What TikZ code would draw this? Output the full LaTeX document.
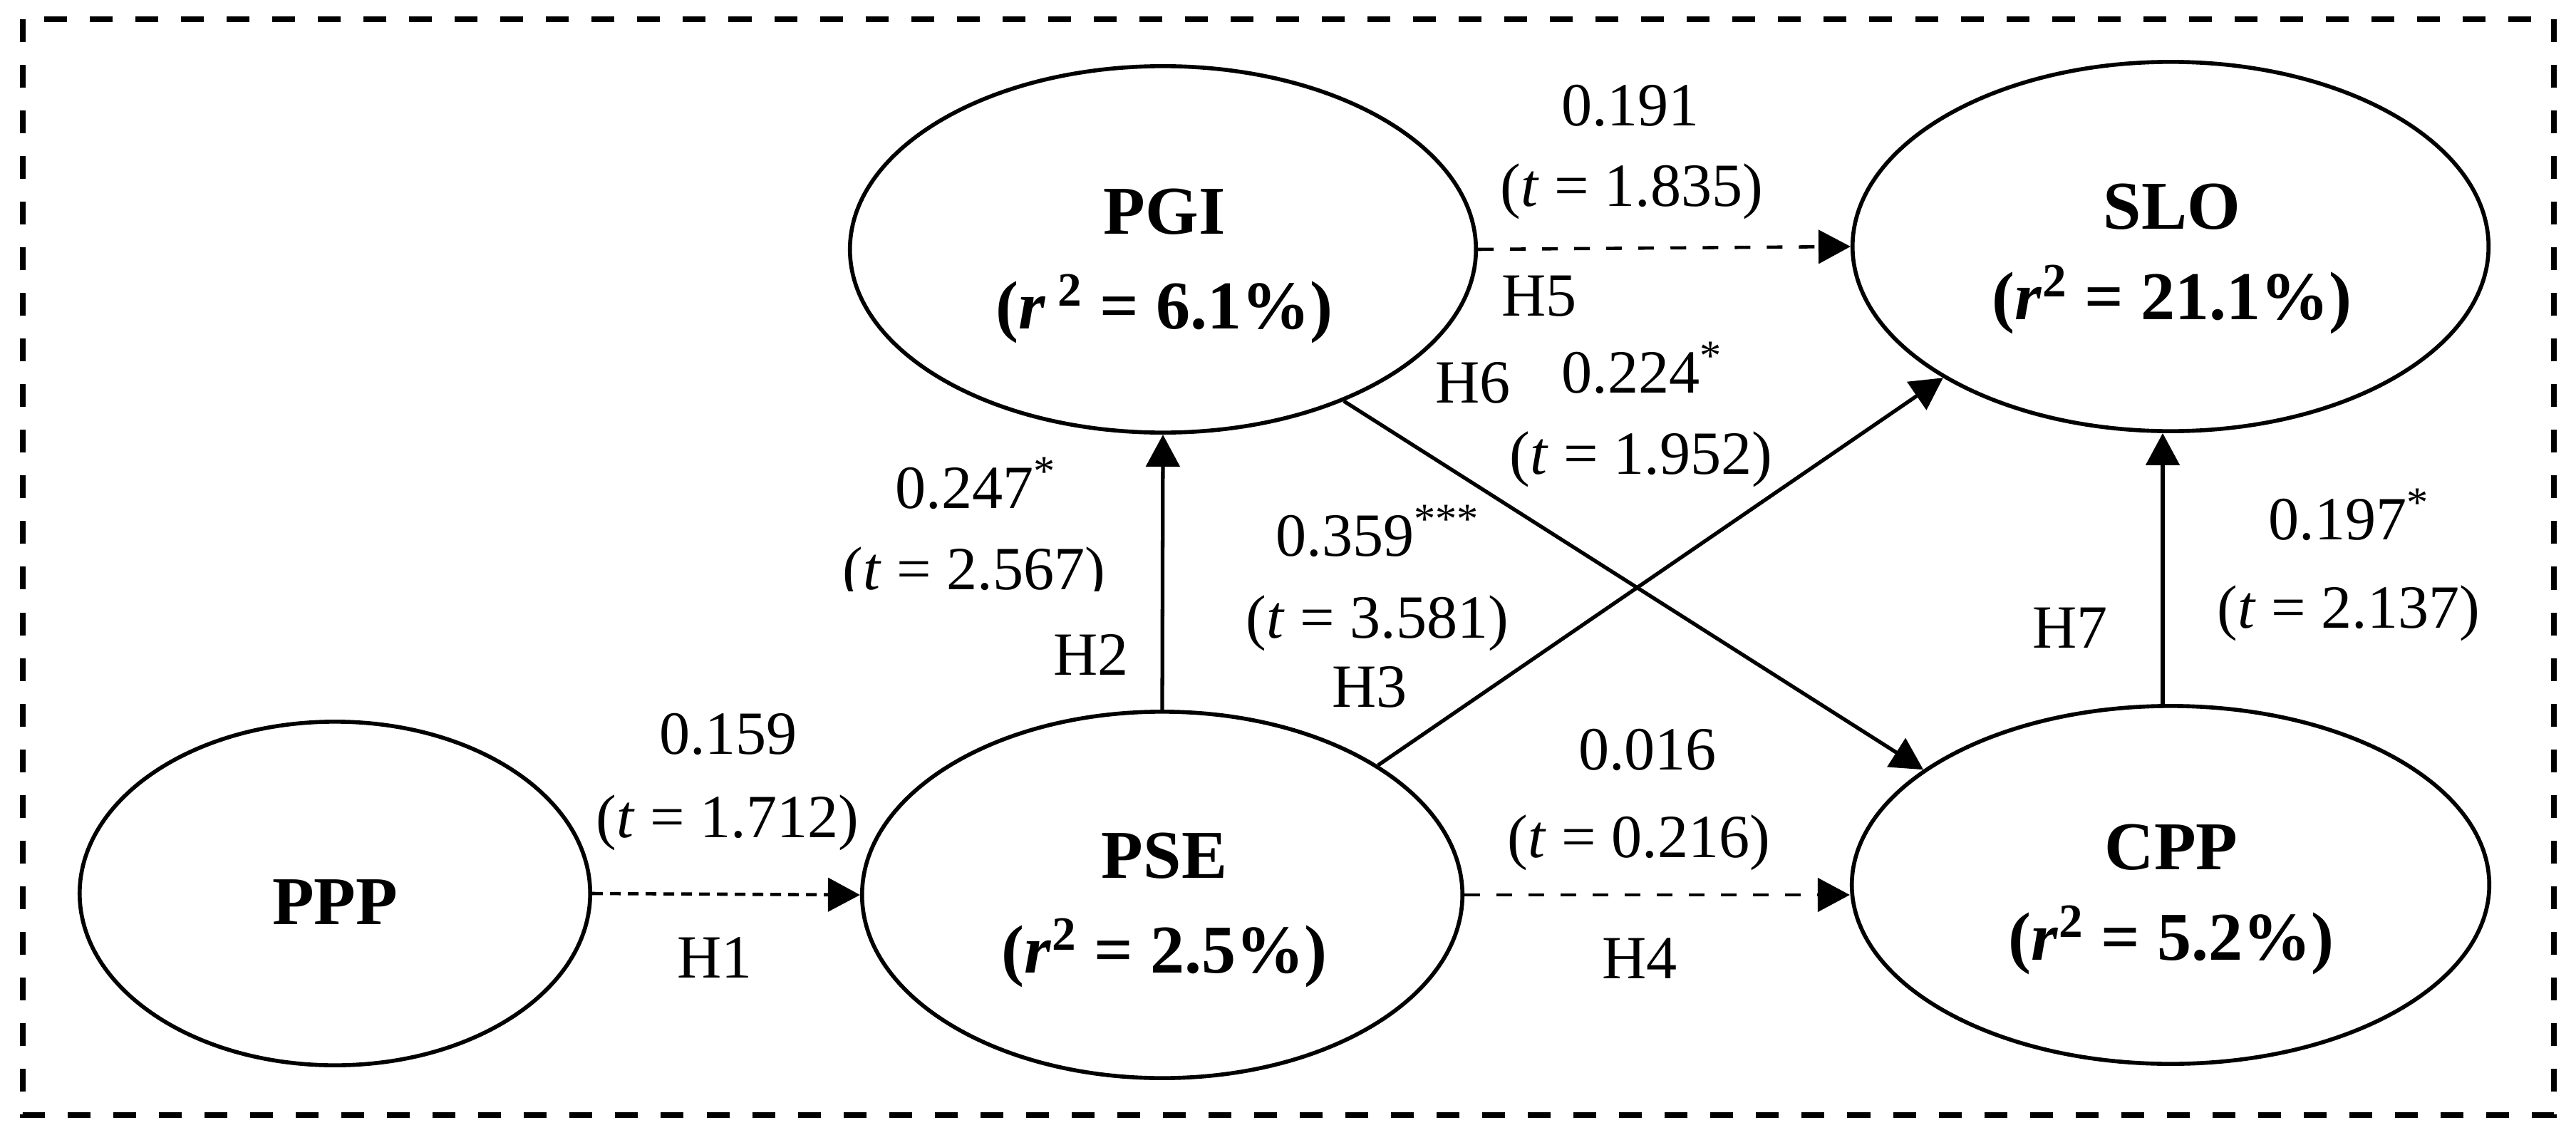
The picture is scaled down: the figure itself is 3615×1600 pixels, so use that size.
\documentclass[tikz,border=0pt]{standalone}
\usepackage{fontspec}
\setmainfont{Liberation Serif}
\usetikzlibrary{arrows.meta,shapes.geometric}
\newcommand\labfont{\fontsize{24.5pt}{28pt}\selectfont}
\newcommand\titfont{\fontsize{27.3pt}{32pt}\selectfont\bfseries}
\tikzset{
  ell/.style={draw, ellipse, line width=1.6pt, inner sep=0pt},
  lab/.style={inner sep=0pt, anchor=base, font=\labfont},
  labw/.style={inner sep=0pt, anchor=base west, font=\labfont},
  tit/.style={inner sep=0pt, anchor=base, font=\titfont},
  arr/.style={-{Triangle[length=0.45cm,width=0.47cm]}, line width=1.5pt},
  dashA/.style={line width=1.3pt, dash pattern=on 0.15cm off 0.10cm},
  dashB/.style={line width=1.3pt, dash pattern=on 0.22cm off 0.23cm},
  border/.style={line width=2.3pt, dash pattern=on 0.32cm off 0.32cm}
}
\begin{document}
\begin{tikzpicture}[x=0.01cm, y=-0.01cm]
\useasboundingbox (0,0) rectangle (3615,1600);
\draw[border] (32,27) rectangle (3584,1565);

% ellipses
\node[ell, minimum width=7.16cm, minimum height=4.82cm] (PPP) at (470,1254) {};
\node[ell, minimum width=8.42cm, minimum height=5.14cm] (PSE) at (1631,1256) {};
\node[ell, minimum width=8.78cm, minimum height=5.14cm] (PGI) at (1632,350) {};
\node[ell, minimum width=8.92cm, minimum height=5.18cm] (SLO) at (3046,346) {};
\node[ell, minimum width=8.94cm, minimum height=5.02cm] (CPP) at (3046,1242) {};

% ellipse texts
\node[tit] (tPPP) at (470,1297) {PPP};
\node[tit] (tPSE) at (1634,1232) {PSE};
\node[tit] (rPSE) at (1634,1365) {(\textit{r}\textsuperscript{2} = 2.5\%)};
\node[tit] (tPGI) at (1634,328) {PGI};
\node[tit] (rPGI) at (1634,461) {(\textit{r}\,\textsuperscript{2} = 6.1\%)};
\node[tit] (tSLO) at (3048,321) {SLO};
\node[tit] (rSLO) at (3048,448) {(\textit{r}\textsuperscript{2} = 21.1\%)};
\node[tit] (tCPP) at (3047,1220) {CPP};
\node[tit] (rCPP) at (3047,1347) {(\textit{r}\textsuperscript{2} = 5.2\%)};

% connectors
\draw[arr, dashA] (PPP.east) -- (PSE.west);
\draw[arr] (PSE.north) -- (PGI.south);
\draw[arr] (PSE.31.5) -- (SLO.210.5);
\draw[arr, dashB] (PSE.east) -- (PSE.east -| CPP.west);
\draw[arr, dashB] (PGI.east) -- (SLO.west);
\draw[arr] (PGI.-40.3) -- (CPP.155.1);
\draw[arr] ([xshift=-0.11cm]CPP.north) -- ([xshift=-0.11cm]SLO.south);

% labels
\node[lab] (l1) at (1022,1058) {0.159};
\node[lab] (l2) at (1021,1175) {(\textit{t} = 1.712)};
\node[lab] (l3) at (1003,1372) {H1};
\node[labw] (l4) at (1256,713) {0.247\textsuperscript{*}};
\begin{scope}
  \clip (1100,690) rectangle (1650,829);
  \node[lab] (l5) at (1367,827) {(\textit{t} = 2.567)};
\end{scope}
\node[lab] (l6) at (1531,947) {H2};
\node[labw] (l7) at (1790,780) {0.359\textsuperscript{***}};
\node[lab] (l8) at (1933,895) {(\textit{t} = 3.581)};
\node[lab] (l9) at (1922,992) {H3};
\node[lab] (l10) at (2312,1080) {0.016};
\node[lab] (l11) at (2300,1203) {(\textit{t} = 0.216)};
\node[lab] (l12) at (2301,1373) {H4};
\node[lab] (l13) at (2288,176) {0.191};
\node[lab] (l14) at (2290,289) {(\textit{t} = 1.835)};
\node[lab] (l15) at (2160,443) {H5};
\node[lab] (l16) at (2067,565) {H6};
\node[labw] (l17) at (2191,551) {0.224\textsuperscript{*}};
\node[lab] (l18) at (2303,665) {(\textit{t} = 1.952)};
\node[labw] (l19) at (3183,757) {0.197\textsuperscript{*}};
\node[lab] (l20) at (3296,881) {(\textit{t} = 2.137)};
\node[lab] (l21) at (2905,909) {H7};
\end{tikzpicture}
\end{document}
